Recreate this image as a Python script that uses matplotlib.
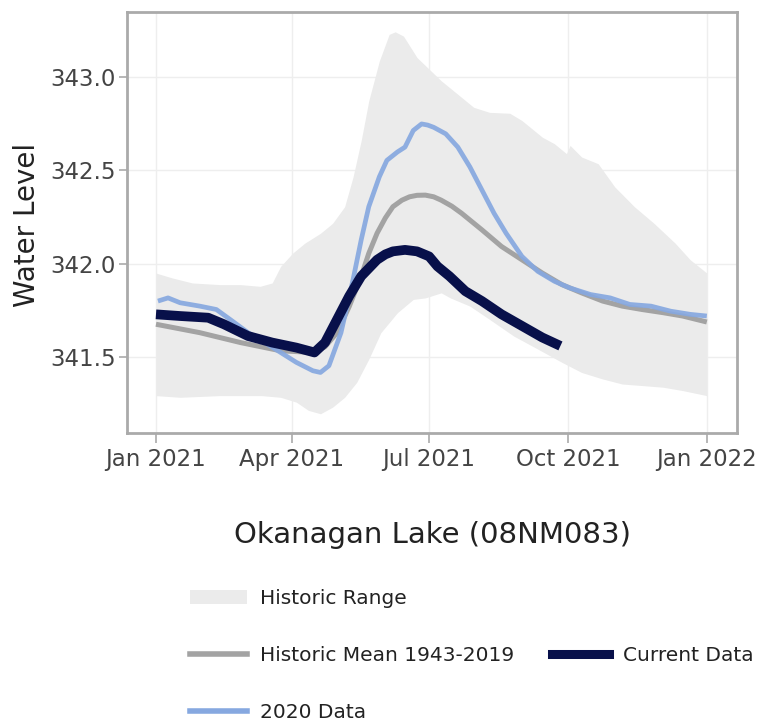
import numpy as np
import matplotlib
matplotlib.use("Agg")
import matplotlib.pyplot as plt
from matplotlib.lines import Line2D
from matplotlib.patches import Patch

# ---- data (days after 2021-01-01, water level in m) ----
range_upper_days = [0, 10.7, 24, 42.6, 56, 69, 77, 82.6, 90.6, 98.6, 109, 117, 125, 130.6, 136, 141, 148,
                    154.5, 158.5, 164, 173, 181, 189, 202.5, 210.5, 221, 234.5, 242.5, 256, 264, 272, 274.4,
                    282, 293, 304, 317, 330, 344, 354, 365]
range_upper_vals = [341.950, 341.924, 341.897, 341.888, 341.888, 341.879, 341.897, 341.986, 342.057, 342.110,
                    342.163, 342.216, 342.305, 342.465, 342.660, 342.872, 343.085, 343.227, 343.241, 343.218,
                    343.103, 343.041, 342.979, 342.890, 342.837, 342.810, 342.805, 342.766, 342.677, 342.642,
                    342.589, 342.633, 342.571, 342.535, 342.411, 342.305, 342.216, 342.110, 342.021, 341.950]

range_lower_days = [0, 16, 42, 70, 82.6, 93, 101, 109, 117, 125, 133, 141, 149, 160, 170.5, 178.5, 189, 195,
                    208, 221, 237, 253, 269, 282, 296, 309, 322, 336, 349, 365]
range_lower_vals = [341.294, 341.285, 341.294, 341.294, 341.285, 341.259, 341.215, 341.197, 341.232, 341.285,
                    341.365, 341.489, 341.631, 341.738, 341.809, 341.817, 341.844, 341.817, 341.773, 341.702,
                    341.613, 341.543, 341.472, 341.418, 341.383, 341.356, 341.348, 341.339, 341.321, 341.294]

mean_days = [0, 29, 56, 82.6, 104, 112, 120, 128, 136, 141, 146.5, 152, 157, 163, 168, 173, 178.5, 184, 189,
             196, 202.5, 216, 229, 242.5, 256, 269, 282, 296, 309, 322, 336, 349, 365]
mean_vals = [341.676, 341.631, 341.578, 341.534, 341.525, 341.555, 341.631, 341.770, 341.933, 342.055,
             342.163, 342.245, 342.305, 342.340, 342.358, 342.366, 342.367, 342.358, 342.340, 342.308,
             342.270, 342.181, 342.092, 342.021, 341.950, 341.888, 341.844, 341.800, 341.773, 341.755,
             341.738, 341.720, 341.688]

data2020_days = [1.3, 8, 16, 29, 40, 50.6, 61, 72, 82.6, 93, 104, 109, 114.6, 122.6, 130.6, 136, 141, 148,
                 153, 160, 165, 170.5, 176, 180, 184, 192, 200, 208, 216, 224, 232, 242.5, 253, 264, 274, 288,
                 301, 314, 328, 341, 354, 365]
data2020_vals = [341.800, 341.817, 341.791, 341.773, 341.755, 341.693, 341.631, 341.578, 341.525, 341.472,
                 341.427, 341.418, 341.454, 341.631, 341.915, 342.128, 342.305, 342.465, 342.553, 342.598,
                 342.624, 342.713, 342.748, 342.742, 342.730, 342.695, 342.624, 342.518, 342.394, 342.270,
                 342.163, 342.039, 341.959, 341.906, 341.871, 341.835, 341.817, 341.782, 341.773, 341.746,
                 341.729, 341.720]

current_days = [0, 16, 34.6, 45, 61, 77, 93, 105, 112, 120, 128, 136, 146.5, 152, 157, 165, 173, 181, 186.5,
                194.5, 205, 216, 229, 242.5, 256, 268]
current_vals = [341.729, 341.720, 341.711, 341.676, 341.613, 341.578, 341.551, 341.525, 341.578, 341.702,
                341.826, 341.933, 342.021, 342.050, 342.066, 342.074, 342.066, 342.039, 341.986, 341.933,
                341.853, 341.800, 341.729, 341.667, 341.605, 341.560]

x_tick_dates = ["2021-01-01", "2021-04-01", "2021-07-01", "2021-10-01", "2022-01-01"]
x_tick_labels = ["Jan 2021", "Apr 2021", "Jul 2021", "Oct 2021", "Jan 2022"]
y_ticks = [341.5, 342.0, 342.5, 343.0]
y_tick_labels = ["341.5", "342.0", "342.5", "343.0"]

title = "Okanagan Lake (08NM083)"
y_label = "Water Level"


def to_dates(days):
    base = np.datetime64("2021-01-01T00:00")
    return base + (np.asarray(days) * 24 * 60).astype("timedelta64[m]")


# ---- figure ----
plt.rcParams['font.family'] = ['DejaVu Sans']
fig = plt.figure(figsize=(7.61, 7.21), dpi=100)
ax = fig.add_axes([127 / 761, 1 - 433 / 721, 610 / 761, 421 / 721])

c_range = "#ebebeb"
c_mean = "#a3a3a3"
c_2020 = "#86a8e0"
c_cur = "#08104a"

# historic range band
band_days = np.union1d(range_upper_days, range_lower_days)
up = np.interp(band_days, range_upper_days, range_upper_vals)
lo = np.interp(band_days, range_lower_days, range_lower_vals)
ax.fill_between(to_dates(band_days), lo, up, color=c_range, linewidth=0, zorder=1)

ax.plot(to_dates(mean_days), mean_vals, color=c_mean, lw=3.6, zorder=3, solid_capstyle="butt",
        solid_joinstyle="round")
ax.plot(to_dates(data2020_days), data2020_vals, color=c_2020, lw=3.4, zorder=4, alpha=0.92,
        solid_capstyle="butt", solid_joinstyle="round")
ax.plot(to_dates(current_days), current_vals, color=c_cur, lw=7, zorder=5, solid_capstyle="butt",
        solid_joinstyle="round")

# axes
ax.set_xlim(to_dates([-19.2])[0], to_dates([385])[0])
ax.set_ylim(341.094, 343.347)
ax.set_xticks(np.array(x_tick_dates, dtype="datetime64[D]"))
ax.set_xticklabels(x_tick_labels)
ax.set_yticks(y_ticks)
ax.set_yticklabels(y_tick_labels)
ax.grid(True, color="#eeeeee", lw=1.0, zorder=0)
ax.set_axisbelow(True)
for s in ax.spines.values():
    s.set_color("#aaaaaa")
    s.set_linewidth(2.0)
ax.tick_params(axis="both", colors="#aaaaaa", labelcolor="#444444", labelsize=16.5, width=1.2)
ax.tick_params(axis="x", length=7, pad=4)
ax.tick_params(axis="y", length=6, pad=2)

fig.text(27 / 761, 1 - 225 / 721, y_label, rotation=90, ha="center", va="center",
         fontsize=20, color="#222222")
fig.text(432 / 761, 1 - 535 / 721, title, ha="center", va="center", fontsize=21, color="#222222")

# legend
blank = Line2D([], [], color="none")
handles = [Patch(facecolor=c_range, edgecolor="none"),
           Line2D([], [], color=c_mean, lw=4),
           Line2D([], [], color=c_2020, lw=4),
           blank,
           Line2D([], [], color=c_cur, lw=6.5),
           blank]
labels = ["Historic Range", "Historic Mean 1943-2019", "2020 Data", "", "Current Data", ""]
leg = fig.legend(handles, labels, ncol=2, loc="upper left", bbox_to_anchor=(190 / 761, 1 - 589 / 721),
                 frameon=False, fontsize=14.5, handlelength=2.83, handleheight=0.7, handletextpad=0.65,
                 labelspacing=1.89, columnspacing=1.9, borderpad=0, borderaxespad=0)
for t in leg.get_texts():
    t.set_color("#222222")

fig.savefig("out.png", dpi=100)
